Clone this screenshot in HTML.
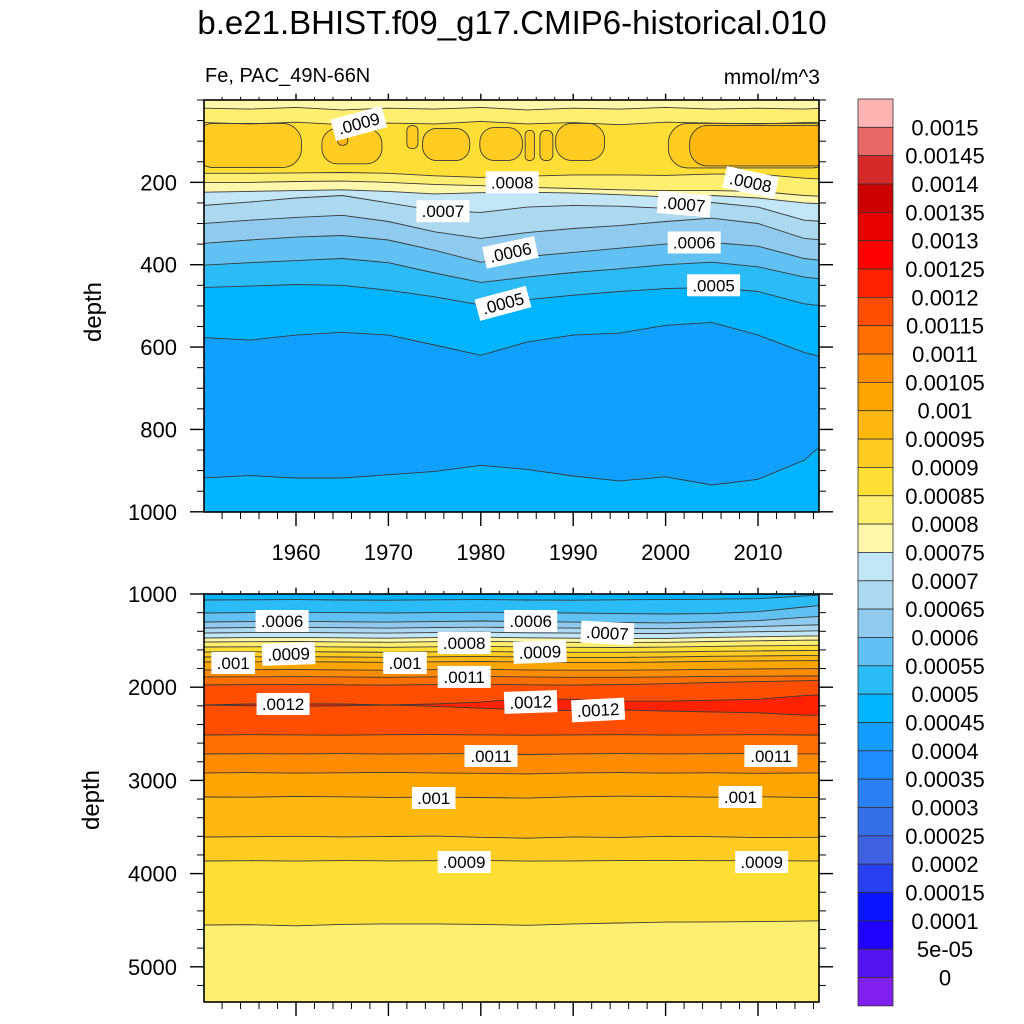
<!DOCTYPE html>
<html><head><meta charset="utf-8"><style>
html,body{margin:0;padding:0;background:#fff}
svg{display:block;font-family:"Liberation Sans",sans-serif}
</style></head><body>
<svg id="c" xmlns="http://www.w3.org/2000/svg" width="1024" height="1024" viewBox="0 0 1024 1024">
<text x="512" y="34" font-size="33" text-anchor="middle">b.e21.BHIST.f09_g17.CMIP6-historical.010</text>
<text x="205" y="82" font-size="20">Fe, PAC_49N-66N</text>
<text x="820" y="84" font-size="21" text-anchor="end">mmol/m^3</text>
<text transform="translate(101,312) rotate(-90)" font-size="24" text-anchor="middle">depth</text>
<text transform="translate(99,800) rotate(-90)" font-size="24" text-anchor="middle">depth</text>
<g id="top"></g>
<g id="bot"></g>
<g id="cbar"></g>
</svg>
<script>
const NS="http://www.w3.org/2000/svg";
const years=[1950,1955,1960,1965,1970,1975,1980,1985,1990,1995,2000,2005,2010,2015,2017];
const cbLabels=["0.0015","0.00145","0.0014","0.00135","0.0013","0.00125","0.0012","0.00115","0.0011","0.00105","0.001","0.00095","0.0009","0.00085","0.0008","0.00075","0.0007","0.00065","0.0006","0.00055","0.0005","0.00045","0.0004","0.00035","0.0003","0.00025","0.0002","0.00015","0.0001","5e-05","0"];
const cbColors=["#ffb3b3","#e86868","#d42a2a","#cc0000","#e60000","#ff0000","#ff2200","#ff4e00","#ff6f00","#ff8c00","#ffa500","#ffb810","#ffcc22","#ffdf36","#ffef70","#fff7aa","#c2e6f5","#acd9f0","#90caee","#60c1f2","#2bbbf6","#00b4ff","#129dff","#1e8cff","#2a80f0","#3570e6","#3f60e0","#2840ee","#0a14ff","#2000ff","#5414f0","#8020ee"];
const topS80=[20,22,18,24,20,22,18,24,20,22,18,22,20,22,20];
const topS85=[55,58,54,60,56,58,52,58,55,60,54,56,58,55,55];
const topL85=[178,178,177,176,178,184,188,185,182,182,183,180,180,190,192];
const topL80=[200,200,198,197,200,205,208,212,215,218,220,220,222,232,234];
const topL75=[224,222,220,218,222,228,225,224,226,230,235,232,238,250,252];
const topL70=[256,248,238,232,250,268,273,260,256,258,263,249,260,292,295];
const topL65=[300,292,285,280,295,320,336,322,312,305,295,287,300,336,340];
const topL60=[348,340,333,329,340,365,394,380,370,360,350,346,355,385,390];
const topL55=[401,395,390,385,395,420,443,430,419,410,400,394,405,430,435];
const topL50=[455,452,448,450,462,478,498,485,474,465,458,455,465,495,500];
const topL45=[577,583,571,564,571,595,620,588,571,566,547,540,571,613,625];
const topL45b=[918,912,918,918,910,902,887,897,913,925,915,935,921,875,835];
const topLines=[topS80,topS85,topL85,topL80,topL75,topL70,topL65,topL60,topL55,topL50,topL45,topL45b];
const topBelow=["#ffef70","#ffdf36","#ffef70","#fff7aa","#c2e6f5","#acd9f0","#90caee","#60c1f2","#2bbbf6","#00b4ff","#10a0ff","#00b4ff"];
const blob90Start=[1949,1962.8,1972,1973.7,1979.9,1984.8,1986.4,1988.1,2000.3];
const blob90End=[1960.6,1969.3,1973.2,1978.8,1984.5,1985.8,1987.8,1993.4,2018];
const blob90Top=[57,69,62,69,67,74,74,57,57];
const blob90Bot=[164,155,118,147,147,147,147,147,165];
const blob95Start=[1964.5,2002.6];
const blob95End=[1965.6,2018];
const blob95Top=[69,62];
const blob95Bot=[110,160];
const botL45=[1064,1062,1060,1064,1066,1062,1060,1064,1066,1062,1060,1056,1050,1020,1010];
const botL50=[1204,1200,1196,1200,1204,1200,1196,1200,1204,1210,1215,1210,1190,1140,1120];
const botL55=[1300,1296,1292,1298,1302,1296,1290,1296,1302,1306,1310,1300,1285,1250,1240];
const botL60=[1365,1360,1358,1362,1366,1360,1356,1362,1366,1370,1372,1362,1350,1335,1330];
const botL65=[1418,1414,1412,1416,1420,1414,1410,1416,1420,1424,1424,1414,1405,1398,1395];
const botL70=[1472,1468,1466,1470,1474,1468,1464,1470,1474,1478,1476,1466,1458,1452,1450];
const botL75=[1515,1512,1510,1514,1518,1512,1508,1514,1518,1520,1518,1510,1502,1496,1495];
const botL80=[1569,1566,1564,1568,1572,1566,1562,1568,1572,1574,1570,1562,1556,1551,1550];
const botL85=[1622,1620,1618,1622,1626,1620,1616,1622,1626,1626,1622,1615,1610,1606,1605];
const botL90=[1676,1674,1672,1676,1680,1674,1670,1676,1680,1680,1676,1668,1664,1661,1660];
const botL95=[1730,1728,1726,1730,1734,1728,1724,1730,1734,1734,1730,1722,1718,1716,1715];
const botL100=[1815,1812,1810,1814,1818,1812,1808,1814,1818,1818,1814,1808,1804,1801,1800];
const botL105=[1890,1888,1886,1890,1894,1888,1884,1890,1894,1894,1890,1884,1882,1880,1880];
const botL110=[1976,1972,1970,1974,1978,1972,1968,1974,1978,1972,1962,1950,1940,1930,1925];
const botL115b=[2513,2510,2512,2515,2510,2508,2512,2515,2512,2510,2514,2512,2510,2513,2513];
const botL110b=[2717,2714,2716,2712,2718,2715,2712,2722,2716,2712,2716,2714,2712,2716,2716];
const botL105b=[2920,2916,2922,2918,2914,2920,2924,2930,2920,2916,2922,2918,2924,2920,2920];
const botL100b=[3178,3180,3172,3176,3182,3180,3184,3190,3176,3170,3174,3180,3176,3182,3182];
const botL95b=[3607,3604,3600,3606,3602,3598,3610,3620,3606,3612,3600,3604,3614,3610,3610];
const botL90b=[3865,3862,3866,3860,3864,3862,3858,3866,3864,3860,3858,3862,3860,3864,3864];
const botL85b=[4551,4548,4560,4545,4540,4540,4545,4555,4540,4530,4520,4518,4515,4510,4505];
const botLines=[botL45,botL50,botL55,botL60,botL65,botL70,botL75,botL80,botL85,botL90,botL95,botL100,botL105,botL110,botL115b,botL110b,botL105b,botL100b,botL95b,botL90b,botL85b];
const botBelow=["#2bbbf6","#60c1f2","#90caee","#acd9f0","#c2e6f5","#fff7aa","#ffef70","#ffdf36","#ffcc22","#ffb810","#ffa500","#ff8c00","#ff6f00","#ff4e00","#ff6f00","#ff8c00","#ffa500","#ffb810","#ffcc22","#ffdf36","#ffef70"];
const lensTop=[2191,2180,2178,2180,2191,2180,2160,2120,2130,2150,2150,2140,2130,2090,2080];
const lensBot=[2191,2200,2205,2200,2191,2205,2225,2245,2250,2245,2255,2265,2275,2300,2300];
const topLabText=[".0009",".0008",".0008",".0007",".0007",".0006",".0006",".0005",".0005"];
const topLabYear=[1966.8,1983.4,2009.2,1975.9,2002,1983.2,2003.1,1982.4,2005.2];
const topLabDepth=[57,200,200,270,253,370,346,494,450];
const topLabRot=[-15,0,12,0,5,-12,0,-15,0];
const botLabText=[".0006",".0006",".0007",".0008",".0009",".0009",".001",".001",".0011",".0012",".0012",".0012",".0011",".0011",".001",".001",".0009",".0009"];
const botLabYear=[1958.5,1985.4,1993.7,1978.2,1959.2,1986.4,1953.2,1971.8,1978.2,1958.6,1985.4,1992.7,1981.1,2011.4,1974.9,2008.1,1978.2,2010.4];
const botLabDepth=[1290,1290,1418,1526,1644,1622,1740,1740,1890,2180,2159,2245,2738,2738,3189,3178,3876,3876];
const botLabRot=[0,0,3,0,-2,-2,0,0,0,0,-2,-3,0,0,0,0,0,0];
const xTickYears=[1960,1970,1980,1990,2000,2010];
const topYTicks=[200,400,600,800,1000];
const botYTicks=[1000,2000,3000,4000,5000];

const X0=204,X1=819;
const xs=yr=>296+(yr-1960)*9.24;
const topY=d=>100+d*0.4118;
const botY=d=>594+(d-1000)*0.0932;
function mk(tag,attrs,parent){const e=document.createElementNS(NS,tag);for(const k in attrs)e.setAttribute(k,attrs[k]);parent.appendChild(e);return e;}
function linePts(arr,ys){return years.map((yr,i)=>xs(yr).toFixed(1)+","+ys(arr[i]).toFixed(1));}

function panel(g,id,ys,y0,y1,bgColor,lines,below){
  const defs=mk('defs',{},g);
  const cp=mk('clipPath',{id:'clip'+id},defs);
  mk('rect',{x:X0,y:y0,width:X1-X0,height:y1-y0},cp);
  const body=mk('g',{'clip-path':'url(#clip'+id+')'},g);
  const bg=mk('rect',{x:X0,y:y0,width:X1-X0,height:y1-y0,fill:bgColor},body);
  
  
  lines.forEach((arr,i)=>{
    const pts=linePts(arr,ys);
    const p=mk('polygon',{points:pts.join(' ')+` ${xs(years[years.length-1])},${y1+5} ${xs(years[0])-5},${y1+5}`,fill:below[i]},body);
    
    
  });
  return body;
}
function strokeLines(body,lines,ys){
  lines.forEach(arr=>{
    const l=mk('polyline',{points:linePts(arr,ys).join(' '),fill:'none',stroke:'#3a3a3a','stroke-width':0.9},body);
    
    
  });
}
function blobs(body,st,en,tp,bt,color,ys){
  st.forEach((s,i)=>{
    const x=xs(s),w=xs(en[i])-x,y=ys(tp[i]),h=ys(bt[i])-y;
    const r=Math.min(w,h)/2.3;
    const b=mk('rect',{x:x,y:y,width:w,height:h,rx:r,ry:r,fill:color,stroke:'#3a3a3a','stroke-width':0.9},body);
    
    
  });
}
function labels(g,txt,yr,dp,rot,ys){
  txt.forEach((t,i)=>{
    const cx=xs(yr[i]),cy=ys(dp[i]);
    const lg=mk('g',{transform:`translate(${cx.toFixed(1)},${cy.toFixed(1)}) rotate(${rot[i]})`},g);
    
    
    const w=t.length*9.4+6;
    mk('rect',{x:-w/2,y:-11,width:w,height:22,fill:'#fff'},lg);
    const tx=mk('text',{x:0,y:6,'font-size':17,'text-anchor':'middle'},lg);
    tx.textContent=t;
  });
}
function axes(g,y0,y1,ys,yTicks,minorStep,dMin,dMax,xlabels){
  const fr=mk('rect',{x:X0,y:y0,width:X1-X0,height:y1-y0,fill:'none',stroke:'#000','stroke-width':1.6},g);
  
  
  for(let yr=1950;yr<=2016;yr+=2){
    const x=xs(yr); if(x<X0||x>X1)continue;
    const major=yr%10===0, L=major?14:7;
    mk('line',{x1:x,x2:x,y1:y1,y2:y1+L,stroke:'#000','stroke-width':major?1.4:1},g);
    mk('line',{x1:x,x2:x,y1:y0,y2:y0-(major?14:7)*0.45,stroke:'#000','stroke-width':major?1.4:1},g);
  }
  for(let d=Math.ceil(dMin/minorStep)*minorStep;d<=dMax;d+=minorStep){
    const y=ys(d); if(y<y0-0.5||y>y1+0.5)continue;
    const major=yTicks.includes(d), L=major?14:7;
    mk('line',{x1:X0,x2:X0-L,y1:y,y2:y,stroke:'#000','stroke-width':major?1.4:1},g);
    mk('line',{x1:X1,x2:X1+L,y1:y,y2:y,stroke:'#000','stroke-width':major?1.4:1},g);
  }
  yTicks.forEach(d=>{
    const t=mk('text',{x:177,y:ys(d)+8,'font-size':22,'text-anchor':'end'},g);
    
    
    t.textContent=d;
  });
  if(xlabels){
    xTickYears.forEach(yr=>{
      const t=mk('text',{x:xs(yr),y:y1+48,'font-size':22,'text-anchor':'middle'},g);
      
      
      t.textContent=yr;
    });
  }
}
const gt=document.getElementById('top');
const tb=panel(gt,'t',topY,100,512,'#fff7aa',topLines,topBelow);
blobs(tb,blob90Start,blob90End,blob90Top,blob90Bot,'#ffcc22',topY);
blobs(tb,blob95Start,blob95End,blob95Top,blob95Bot,'#ffb810',topY);
strokeLines(tb,topLines,topY);
labels(tb,topLabText,topLabYear,topLabDepth,topLabRot,topY);
axes(gt,100,512,topY,topYTicks,50,0,1000,true);
const gb=document.getElementById('bot');
const bb=panel(gb,'b',botY,594,1002,'#00b4ff',botLines,botBelow);
const lens=mk('polygon',{points:linePts(lensTop,botY).concat(linePts(lensBot,botY).reverse()).join(' '),fill:'#ff2200',stroke:'#3a3a3a','stroke-width':0.9},bb);


strokeLines(bb,botLines,botY);
labels(bb,botLabText,botLabYear,botLabDepth,botLabRot,botY);
axes(gb,594,1002,botY,botYTicks,200,1000,5400,false);
const cb=document.getElementById('cbar');
const CBX=858,CBW=35,CBY=99,CBH=28.34;
cbColors.forEach((c,i)=>{
  const r=mk('rect',{x:CBX,y:CBY+i*CBH,width:CBW,height:CBH,fill:c,stroke:'#333','stroke-width':0.8},cb);
  
  
});
cbLabels.forEach((t,i)=>{
  const tx=mk('text',{x:945,y:CBY+(i+1)*CBH+8,'font-size':22,'text-anchor':'middle'},cb);
  
  
  tx.textContent=t;
});
</script>
</body></html>
